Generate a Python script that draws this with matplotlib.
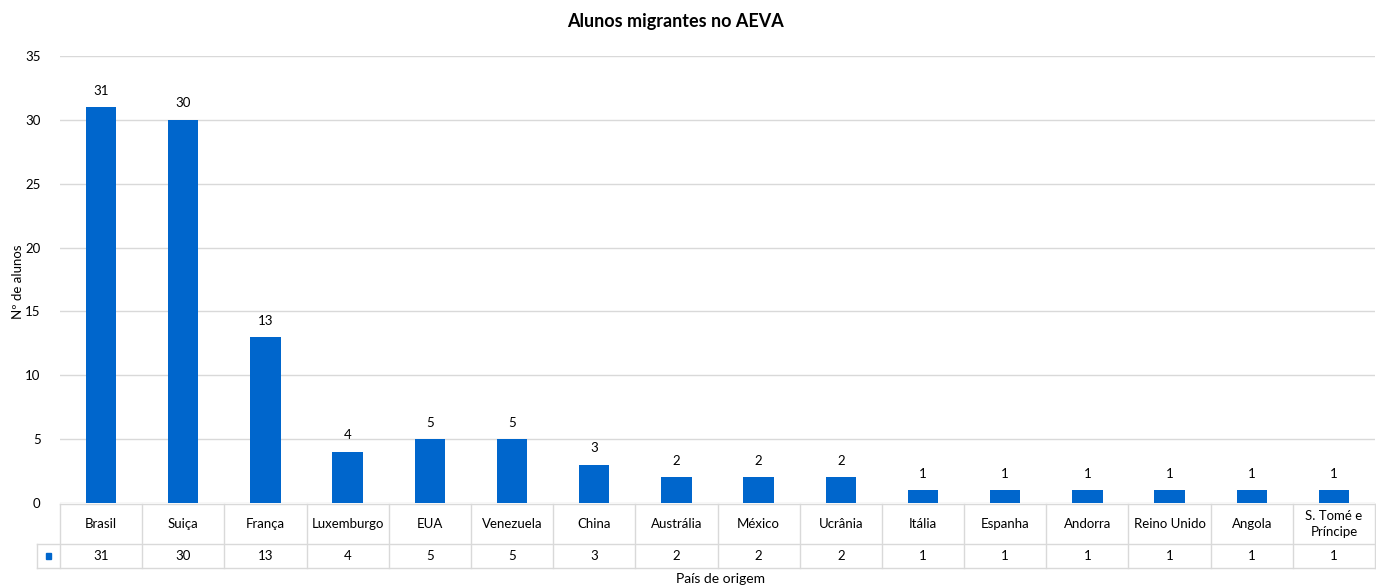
import matplotlib
matplotlib.use("Agg")
import matplotlib.pyplot as plt
from matplotlib.transforms import blended_transform_factory
from matplotlib.lines import Line2D
from matplotlib.patches import Rectangle

categories = ["Brasil", "Suiça", "França", "Luxemburgo", "EUA", "Venezuela", "China",
              "Austrália", "México", "Ucrânia", "Itália", "Espanha", "Andorra",
              "Reino Unido", "Angola", "S. Tomé e\nPríncipe"]
values = [31, 30, 13, 4, 5, 5, 3, 2, 2, 2, 1, 1, 1, 1, 1, 1]
yticks = [0, 5, 10, 15, 20, 25, 30, 35]

plt.rcParams['font.family'] = ['Lato', 'DejaVu Sans']
BAR = '#0066CC'
GRID = '#D9D9D9'
TXT = '#000000'

W, H = 1376, 585
fig = plt.figure(figsize=(W / 100, H / 100), dpi=100)
left, right, top, bottom = 60, 1375, 56, 503
ax = fig.add_axes([left / W, 1 - bottom / H, (right - left) / W, (bottom - top) / H])
n = len(categories)
x = list(range(n))
ax.bar(x, values, width=0.37, color=BAR, zorder=3)
for xi, v in zip(x, values):
    ax.annotate(str(v), (xi, v), xytext=(0, 7.5), textcoords='offset points',
                ha='center', va='bottom', fontsize=9.5, color=TXT)
ax.set_xlim(-0.5, n - 0.5)
ax.set_ylim(0, 35)
ax.set_yticks(yticks)
ax.yaxis.grid(True, color=GRID, linewidth=1, zorder=0)
ax.tick_params(axis='y', length=0, pad=14, labelsize=9.5, labelcolor=TXT)
ax.tick_params(axis='x', length=0, labelbottom=False)
for s in ax.spines.values():
    s.set_visible(False)

# data table
trans = blended_transform_factory(ax.transData, ax.transAxes)
ah = bottom - top
def fy(py):
    return (bottom - py) / ah
y_top, y_mid, y_bot = fy(504), fy(544), fy(568)
key_left = -0.5 - (left - 37) / ((right - left) / n)
lw = 1
def line(xs, ys):
    ax.add_line(Line2D(xs, ys, transform=trans, color=GRID, lw=lw, clip_on=False))
line([-0.5, n - 0.5], [y_top, y_top])
line([key_left, n - 0.5], [y_mid, y_mid])
line([key_left, n - 0.5], [y_bot, y_bot])
line([key_left, key_left], [y_mid, y_bot])
for b in range(n + 1):
    line([b - 0.5, b - 0.5], [y_top, y_bot])
for xi, c, v in zip(x, categories, values):
    ax.text(xi, (y_top + y_mid) / 2, c, transform=trans, ha='center', va='center',
            fontsize=9.5, color=TXT, linespacing=1.3)
    ax.text(xi, (y_mid + y_bot) / 2, str(v), transform=trans, ha='center', va='center',
            fontsize=9.5, color=TXT)
kx = (key_left + (-0.5)) / 2
ax.add_patch(Rectangle((kx - 0.035, (y_mid + y_bot) / 2 - 0.007), 0.07, 0.014,
                       transform=trans, color=BAR, clip_on=False))

fig.text(675 / W, 1 - 22 / H, "Alunos migrantes no AEVA", ha='center', va='center',
         fontsize=13, fontweight='bold', color=TXT)
fig.text(18 / W, 1 - 282 / H, "Nº de alunos", rotation=90, ha='center', va='center',
         fontsize=9.5, color=TXT)
fig.text(720 / W, 1 - 579 / H, "País de origem", ha='center', va='center',
         fontsize=10, color=TXT)

fig.savefig("out.png", dpi=100)
